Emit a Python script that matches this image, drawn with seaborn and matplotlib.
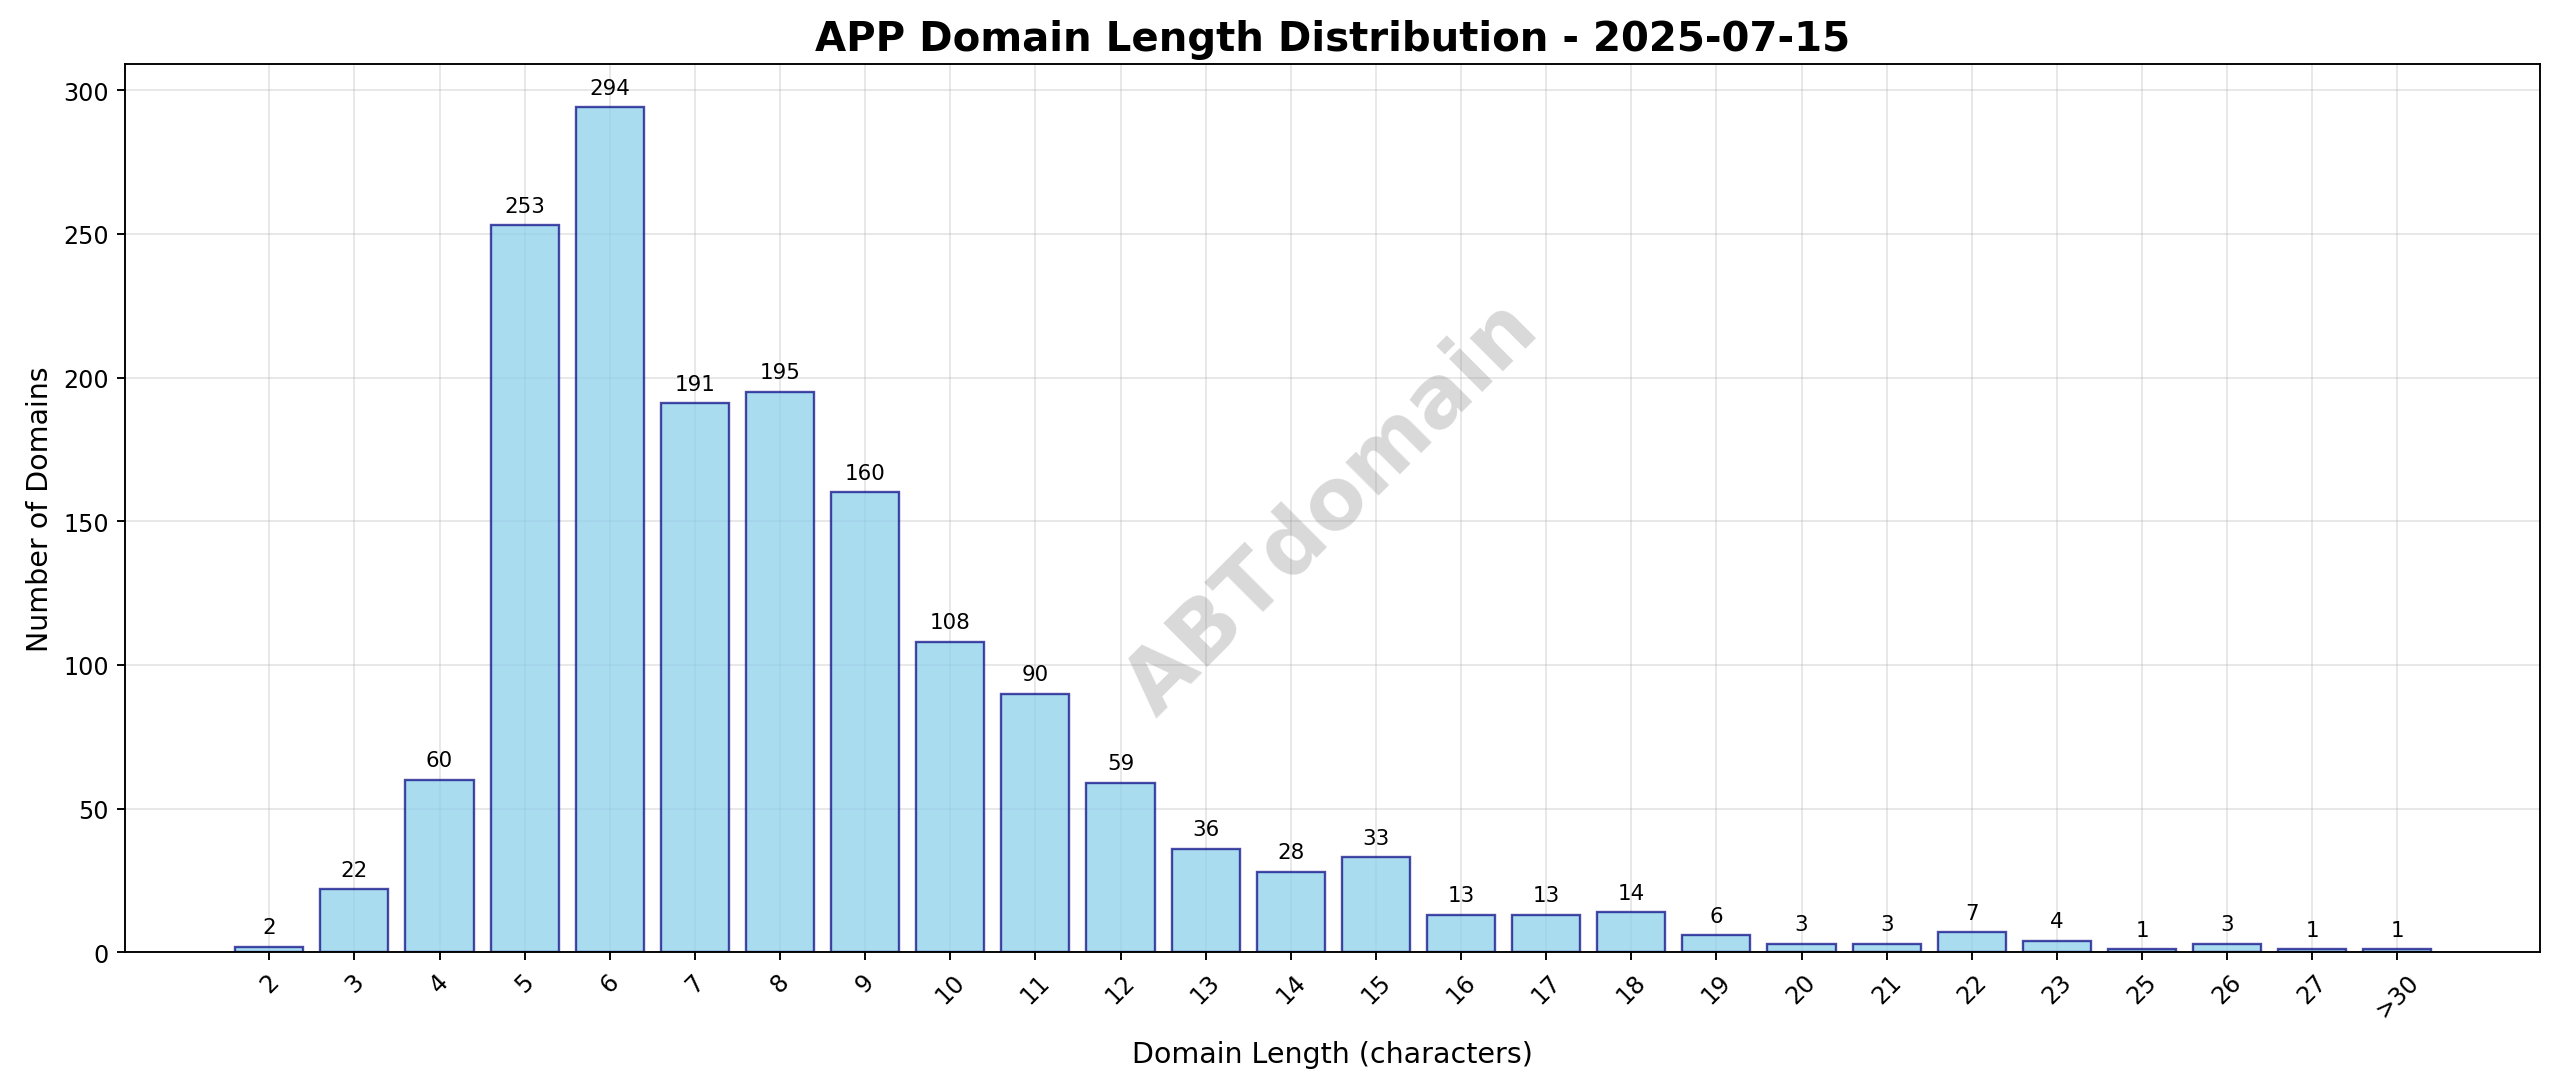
import matplotlib
matplotlib.use("Agg")
import matplotlib.pyplot as plt
import seaborn as sns
import pandas as pd

categories = ["2","3","4","5","6","7","8","9","10","11","12","13","14","15","16","17","18","19","20","21","22","23","25","26","27",">30"]
counts = [2,22,60,253,294,191,195,160,108,90,59,36,28,33,13,13,14,6,3,3,7,4,1,3,1,1]

df = pd.DataFrame({"len": categories, "n": counts})
fig, ax = plt.subplots(figsize=(15, 6.369), dpi=170.667)
fig.subplots_adjust(left=0.049, right=0.992, top=0.94, bottom=0.123)
sns.barplot(data=df, x="len", y="n", order=categories, color="skyblue", saturation=1,
            edgecolor="navy", linewidth=1.0, alpha=0.7, width=0.8, ax=ax, zorder=2)
for p, v in zip(ax.patches, counts):
    ax.annotate(str(v), (p.get_x() + p.get_width() / 2, p.get_height()),
                xytext=(0, 4), textcoords="offset points", ha="center", va="bottom", fontsize=9)
ax.set_xlim(-1.69, len(categories) + 0.67)
ax.set_ylim(0, 309)
ax.grid(True, alpha=0.3, zorder=0)
ax.set_axisbelow(True)
ax.tick_params(axis="x", rotation=45)
ax.set_xlabel("Domain Length (characters)", fontsize=12, labelpad=8)
ax.set_ylabel("Number of Domains", fontsize=12)
ax.set_title("APP Domain Length Distribution - 2025-07-15", fontsize=17, fontweight="bold")
ax.text(0.5, 0.5, "ABTdomain", transform=ax.transAxes, fontsize=36, fontweight="bold",
        color="gray", alpha=0.3, rotation=45, ha="center", va="center")
fig.savefig("out.png")
